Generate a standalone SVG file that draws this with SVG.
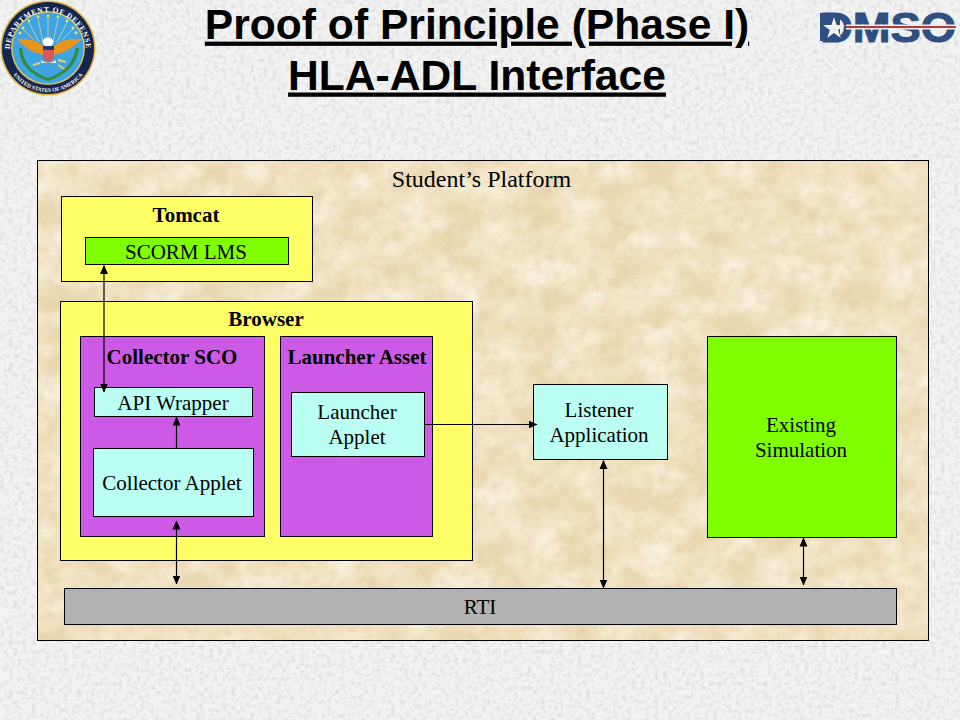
<svg xmlns="http://www.w3.org/2000/svg" xmlns:xlink="http://www.w3.org/1999/xlink" width="960" height="720" viewBox="0 0 960 720">
<style>
.b{stroke:#000;stroke-width:1}
.y{fill:#ffff66}.p{fill:#cc5ae6}.c{fill:#bbfff2}.g{fill:#80ff00}
text{font-family:"Liberation Serif","Times New Roman",serif;fill:#000;text-anchor:middle}
.l{font-size:21px}.h{font-size:21px;font-weight:bold}
.t{font-family:"Liberation Sans",Arial,sans-serif;font-size:42.600px;font-weight:bold;text-decoration:underline;text-decoration-skip-ink:none}
.a{stroke:#000;stroke-width:1.2;fill:none;marker-start:url(#s);marker-end:url(#e)}
.one{stroke:#000;stroke-width:1.2;fill:none;marker-end:url(#e)}
.st{fill:#f0e060}.ray{stroke:#e8e08a;stroke-width:.7;fill:none}
</style>
<defs>
<marker id="e" markerUnits="userSpaceOnUse" markerWidth="10" markerHeight="10" refX="8.500" refY="4" orient="auto"><path d="M0 0L9 4L0 8Z" fill="#000"/></marker>
<marker id="s" markerUnits="userSpaceOnUse" markerWidth="10" markerHeight="10" refX=".5" refY="4" orient="auto"><path d="M9 0L0 4L9 8Z" fill="#000"/></marker>
<filter id="grain" x="0" y="0" width="100%" height="100%"><feTurbulence type="fractalNoise" baseFrequency="0.22" numOctaves="4" seed="4"/><feColorMatrix values="0 0 0 0 0.6 0 0 0 0 0.6 0 0 0 0 0.6 1.3 0 0 0 -0.56"/></filter>
<filter id="sand" x="0" y="0" width="100%" height="100%"><feTurbulence type="fractalNoise" baseFrequency="0.025 0.035" numOctaves="5" seed="9"/><feColorMatrix values="0 0 0 0 0.98 0 0 0 0 0.93 0 0 0 0 0.81 1.5 0 0 0 -0.4"/></filter>
<filter id="sand2" x="0" y="0" width="100%" height="100%"><feTurbulence type="fractalNoise" baseFrequency="0.09" numOctaves="4" seed="2"/><feColorMatrix values="0 0 0 0 0.74 0 0 0 0 0.6 0 0 0 0 0.38 1 0 0 0 -0.4"/></filter>
<path id="topArc" d="M10 50A38 38 0 0 1 86 50"/>
<path id="botArc" d="M4 48A44 44 0 0 0 92 48"/>
</defs>

<g id="background">
<rect width="960" height="720" fill="#f3f3f3"/>
<rect width="960" height="720" filter="url(#grain)"/>
</g>

<g id="title">
<text class="t" x="477" y="38.600">Proof of Principle (Phase I)</text>
<text class="t" x="477" y="89.500">HLA-ADL Interface</text>
</g>

<g id="dod-seal">
<circle cx="48" cy="48" r="47.500" fill="#e0b83c"/>
<circle cx="48" cy="48" r="46" fill="#16264f"/>
<circle cx="48" cy="48" r="37" fill="#d9c25a"/>
<circle cx="48" cy="48" r="35.500" fill="#3fa4e4"/>
<path class="ray" d="M48 42V18M43 42L38 19M53 42L58 19M39 42L29 23M57 42L67 23M34 40L23 29M62 40L73 29"/>
<g class="st"><circle cx="48" cy="16" r="1.400"/><circle cx="38" cy="17" r="1.400"/><circle cx="58" cy="17" r="1.400"/><circle cx="29" cy="21" r="1.400"/><circle cx="67" cy="21" r="1.400"/><circle cx="23" cy="28" r="1.400"/><circle cx="73" cy="28" r="1.400"/><circle cx="20" cy="33" r="1.400"/><circle cx="76" cy="33" r="1.400"/></g>
<path d="M17 39Q33 37 43 46L43 55Q28 52 17 39Z M82 39Q64 37 54 46L54 55Q69 52 82 39Z" fill="#e8941e"/>
<ellipse cx="48" cy="42" rx="5.500" ry="4.500" fill="#fff"/>
<path d="M43 46H54V58Q48 65 43 58Z" fill="#d8585a"/>
<path d="M43 46H54V50H43Z" fill="#1d3a78"/>
<path d="M41 60Q48 66 56 60L56 63H41Z" fill="#f0e8c8"/>
<path d="M58 60L66 62M58 65L66 70M33 65L40 63" stroke="#e0d060" stroke-width="2" fill="none"/>
<path d="M19 48Q20 72 48 81Q76 72 79 48L76 48Q72 70 48 78Q24 70 22 48Z" fill="#2f8a3a"/>
<text style="font-size:7.500px;font-weight:bold;fill:#fff;letter-spacing:.8px"><textPath xlink:href="#topArc" href="#topArc" startOffset="50%">DEPARTMENT OF DEFENSE</textPath></text>
<text style="font-size:5.500px;font-weight:bold;fill:#fff"><textPath xlink:href="#botArc" href="#botArc" startOffset="50%">UNITED STATES OF AMERICA</textPath></text>
</g>

<g id="dmso-logo">
<text x="820" y="42" textLength="136" lengthAdjust="spacingAndGlyphs" style="text-anchor:start;font-family:'Liberation Sans',Arial,sans-serif;font-size:43px;font-weight:bold;fill:#2d4f82;stroke:#2d4f82;stroke-width:1">DMSO</text>
<path d="M820 13H840V41H820Z" fill="#2d4f82"/>
<path d="M846 24.500H956V29.500H846Z" fill="#eeeeee"/>
<path d="M846 26H956V28H846Z" fill="#b03a3a"/>
<path d="M834 17l2.600 8h8.400l-6.800 5 2.600 8-6.800-5-6.800 5 2.600-8-6.800-5h8.400Z" fill="#eef0f2"/>
</g>

<g id="student-platform">
<rect x="37.500" y="160.500" width="891" height="480" fill="#ebd9b2" stroke="#000"/>
<rect x="38" y="161" width="890" height="479" filter="url(#sand)"/>
<rect x="38" y="161" width="890" height="479" filter="url(#sand2)"/>
<text x="481.500" y="187" style="font-size:24px">Student’s Platform</text>
</g>

<g id="tomcat"><rect class="b y" x="61.500" y="196.500" width="251" height="85"/><text class="h" x="186" y="222">Tomcat</text></g>
<g id="scorm-lms"><rect class="b g" x="85.500" y="237.500" width="203" height="27"/><text class="l" x="186" y="259">SCORM LMS</text></g>
<g id="browser"><rect class="b y" x="60.500" y="301.500" width="412" height="259"/><text class="h" x="266" y="326">Browser</text></g>
<g id="collector-sco"><rect class="b p" x="80.500" y="336.500" width="184" height="200"/><text class="h" x="172" y="364">Collector SCO</text></g>
<g id="launcher-asset"><rect class="b p" x="280.500" y="336.500" width="152" height="200"/><text class="h" x="357" y="364">Launcher Asset</text></g>
<g id="api-wrapper"><rect class="b c" x="94.500" y="387.500" width="158" height="29"/><text class="l" x="173" y="410">API Wrapper</text></g>
<g id="collector-applet"><rect class="b c" x="93.500" y="448.500" width="160" height="68"/><text class="l" x="172" y="490">Collector Applet</text></g>
<g id="launcher-applet"><rect class="b c" x="291.500" y="392.500" width="133" height="64"/><text class="l" x="357" y="419">Launcher</text><text class="l" x="357" y="444">Applet</text></g>
<g id="listener-application"><rect class="b c" x="533.500" y="384.500" width="134" height="75"/><text class="l" x="599" y="417">Listener</text><text class="l" x="599" y="442">Application</text></g>
<g id="existing-simulation"><rect class="b g" x="707.500" y="336.500" width="189" height="201"/><text class="l" x="801" y="432">Existing</text><text class="l" x="801" y="457">Simulation</text></g>
<g id="rti"><rect class="b" fill="#b2b2b2" x="64.500" y="588.500" width="832" height="36"/><text class="l" x="480" y="614">RTI</text></g>

<g id="connectors">
<path class="a" d="M104 265.500V392"/>
<path class="one" d="M176.500 448V417"/>
<path class="a" d="M176.500 521V584"/>
<path class="one" d="M424 424.500H537"/>
<path class="a" d="M603.500 460.500V588"/>
<path class="a" d="M803.500 538V585"/>
</g>
</svg>
